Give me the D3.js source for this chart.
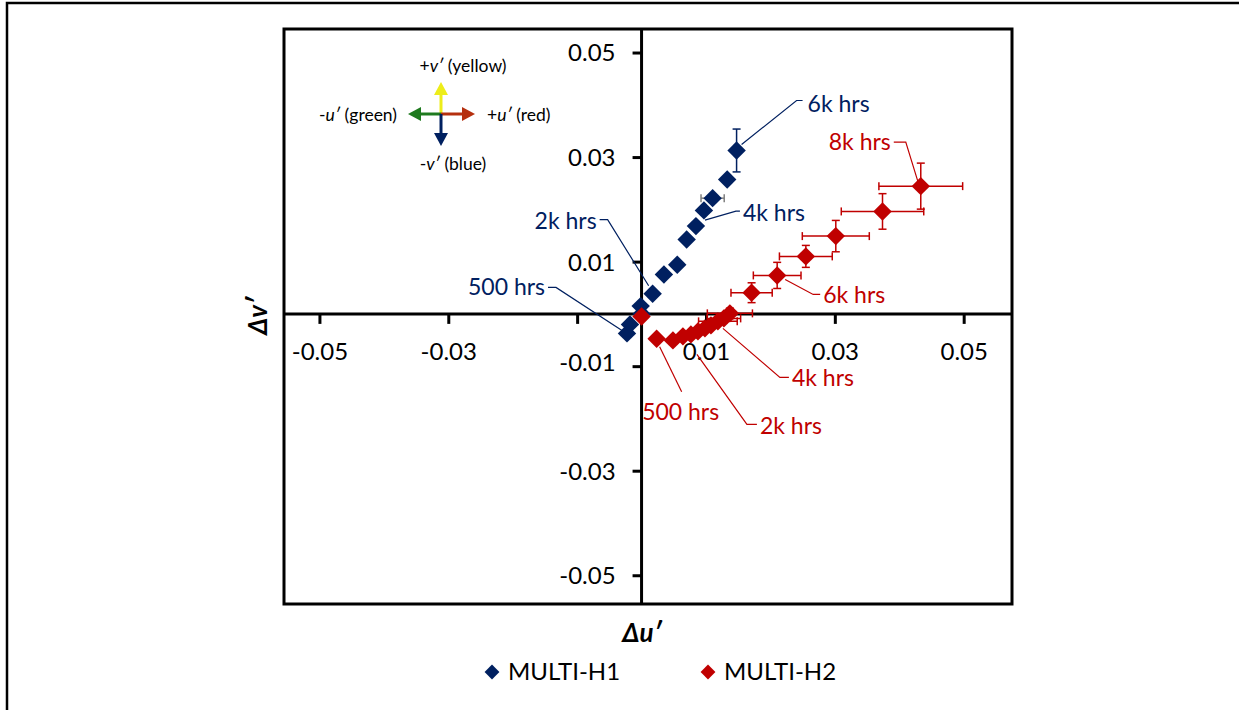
<!DOCTYPE html>
<html>
<head>
<meta charset="utf-8">
<script src="https://cdn.jsdelivr.net/npm/d3@7"></script>
<style>
  body { margin: 0; background: #fff; }
  svg { display: block; font-family: Lato, "Open Sans", sans-serif; }
</style>
</head>
<body>
<div id="vis1"></div>
<script>
// hours since start, 500 hr steps
const H1_HOURS = [0, 500, 1000, 1500, 2000, 2500, 3000, 3500, 4000, 4500, 5000, 5500, 6000];
const H1_DU = [0, -0.00226, -0.0018, -0.00014, 0.00172, 0.00347, 0.00554, 0.007, 0.00844, 0.00968, 0.01103, 0.01329, 0.01475];
const H1_DV = [0, -0.00373, -0.00201, 0.00149, 0.00386, 0.00755, 0.00941, 0.01424, 0.01679, 0.0198, 0.02214, 0.02572, 0.03126];
const H1_ERR_U = [0, 0, 0, 0, 0, 0, 0, 0, 0, 0, 0.0018, 0, 0];
const H1_ERR_V = [0, 0, 0, 0, 0, 0, 0, 0, 0, 0, 0, 0, 0.0041];

const H2_HOURS = [0, 500, 1000, 1500, 2000, 2500, 3000, 3500, 4000, 4500, 5000, 5500, 6000, 6500, 7000, 7500, 8000];
const H2_DU = [0, 0.00234, 0.00487, 0.00642, 0.00766, 0.00875, 0.00984, 0.01077, 0.01185, 0.01278, 0.01371, 0.01708, 0.02105, 0.0255, 0.03015, 0.0374, 0.04334];
const H2_DV = [-0.0005, -0.00474, -0.00507, -0.0043, -0.00392, -0.00335, -0.00277, -0.0022, -0.00143, -0.00086, 0.0001, 0.00405, 0.00736, 0.011, 0.01488, 0.0196, 0.02444];
const H2_ERR_U = [0, 0, 0, 0, 0, 0, 0, 0, 0.003, 0.0026, 0.0035, 0.0032, 0.0037, 0.0041, 0.0052, 0.0064, 0.0065];
const H2_ERR_V = [0, 0, 0, 0, 0, 0, 0, 0, 0, 0.0008, 0.001, 0.0019, 0.0025, 0.0021, 0.003, 0.0034, 0.0044];

const X_TICKS = [-0.05, -0.03, -0.01, 0.01, 0.03, 0.05];
const Y_TICKS = [0.05, 0.03, 0.01, -0.01, -0.03, -0.05];
const SERIES_NAMES = ["MULTI-H1", "MULTI-H2"];

const BLUE = "#002060";
const RED = "#c00000";

const W = 1239, H = 710;
const PLOT = {left: 284, top: 29, right: 1012, bottom: 604};

const svg = d3.select("#vis1").append("svg")
    .attr("width", W)
    .attr("height", H);

svg.append("rect").attr("width", W).attr("height", H).attr("fill", "#fff");

// figure frame
svg.append("rect")
    .attr("x", 7).attr("y", 3)
    .attr("width", 1300).attr("height", 800)
    .attr("fill", "none").attr("stroke", "#000").attr("stroke-width", 2.5);

const x = d3.scaleLinear().domain([-0.0555, 0.0575]).range([PLOT.left, PLOT.right]);
const y = d3.scaleLinear().domain([-0.0555, 0.0545]).range([PLOT.bottom, PLOT.top]);

// plot border
svg.append("rect")
    .attr("x", PLOT.left).attr("y", PLOT.top)
    .attr("width", PLOT.right - PLOT.left).attr("height", PLOT.bottom - PLOT.top)
    .attr("fill", "none").attr("stroke", "#000").attr("stroke-width", 3);

// axes through origin
const xAxis = d3.axisBottom(x).tickValues(X_TICKS).tickSize(10)
    .tickFormat(d => d === -0.01 ? "" : d.toFixed(2)); // shares the y-axis "-0.01" label
const yAxis = d3.axisLeft(y).tickValues(Y_TICKS).tickSize(9).tickFormat(d => d.toFixed(2));

const gx = svg.append("g").attr("transform", `translate(0, ${y(0)})`).call(xAxis);
const gy = svg.append("g").attr("transform", `translate(${x(0)}, 0)`).call(yAxis);

[gx, gy].forEach(g => {
  g.select(".domain").remove();
  g.selectAll(".tick line").attr("stroke", "#000").attr("stroke-width", 3);
  g.selectAll(".tick text").attr("fill", "#000").attr("font-size", 24)
    .attr("font-family", "Lato, 'Open Sans', sans-serif");
});
gx.selectAll(".tick text").attr("y", 38).attr("dy", "0.35em");
gy.selectAll(".tick text").attr("x", -26).attr("dy", "0.35em")
  .attr("transform", d => d === -0.01 ? "translate(0, -4)" : null);

svg.append("line")
    .attr("x1", PLOT.left).attr("x2", PLOT.right)
    .attr("y1", y(0)).attr("y2", y(0))
    .attr("stroke", "#000").attr("stroke-width", 3);
svg.append("line")
    .attr("x1", x(0)).attr("x2", x(0))
    .attr("y1", PLOT.top).attr("y2", PLOT.bottom)
    .attr("stroke", "#000").attr("stroke-width", 3);

// axis titles
svg.append("text")
    .attr("x", 642).attr("y", 633).attr("dy", "0.35em")
    .attr("text-anchor", "middle")
    .attr("font-size", 26).attr("font-weight", "bold").attr("font-style", "italic")
    .text("\u0394u\u2032");
svg.append("text")
    .attr("transform", "translate(258, 316) rotate(-90)")
    .attr("dy", "0.35em")
    .attr("text-anchor", "middle")
    .attr("font-size", 26).attr("font-weight", "bold").attr("font-style", "italic")
    .text("\u0394v\u2032");

const series = [
  {name: SERIES_NAMES[0], color: BLUE, hours: H1_HOURS, du: H1_DU, dv: H1_DV, eu: H1_ERR_U, ev: H1_ERR_V, euColor: "#7f7f7f"},
  {name: SERIES_NAMES[1], color: RED, hours: H2_HOURS, du: H2_DU, dv: H2_DV, eu: H2_ERR_U, ev: H2_ERR_V, euColor: RED}
];

const diamond = d3.symbol(d3.symbolSquare, 170);
const CAP = 4;

series.forEach(s => {
  const pts = s.hours.map((h, i) => ({h: h, u: s.du[i], v: s.dv[i], eu: s.eu[i], ev: s.ev[i]}));
  const g = svg.append("g");

  // horizontal error bars
  const ex = g.selectAll(".ex").data(pts.filter(d => d.eu > 0)).enter().append("g")
      .attr("stroke", s.euColor).attr("stroke-width", 1.5);
  ex.append("line")
      .attr("x1", d => x(d.u - d.eu)).attr("x2", d => x(d.u + d.eu))
      .attr("y1", d => y(d.v)).attr("y2", d => y(d.v));
  ex.append("line")
      .attr("x1", d => x(d.u - d.eu)).attr("x2", d => x(d.u - d.eu))
      .attr("y1", d => y(d.v) - CAP).attr("y2", d => y(d.v) + CAP);
  ex.append("line")
      .attr("x1", d => x(d.u + d.eu)).attr("x2", d => x(d.u + d.eu))
      .attr("y1", d => y(d.v) - CAP).attr("y2", d => y(d.v) + CAP);

  // vertical error bars
  const ey = g.selectAll(".ey").data(pts.filter(d => d.ev > 0)).enter().append("g")
      .attr("stroke", s.color).attr("stroke-width", 1.5);
  ey.append("line")
      .attr("x1", d => x(d.u)).attr("x2", d => x(d.u))
      .attr("y1", d => y(d.v - d.ev)).attr("y2", d => y(d.v + d.ev));
  ey.append("line")
      .attr("x1", d => x(d.u) - CAP).attr("x2", d => x(d.u) + CAP)
      .attr("y1", d => y(d.v - d.ev)).attr("y2", d => y(d.v - d.ev));
  ey.append("line")
      .attr("x1", d => x(d.u) - CAP).attr("x2", d => x(d.u) + CAP)
      .attr("y1", d => y(d.v + d.ev)).attr("y2", d => y(d.v + d.ev));

  g.selectAll("path.pt").data(pts).enter().append("path")
      .attr("class", "pt")
      .attr("d", diamond)
      .attr("transform", d => `translate(${x(d.u)}, ${y(d.v)}) rotate(45)`)
      .attr("fill", s.color);
});

// hour labels with leader lines (offsets in px from the marker)
const LABELS = [
  {s: 0, h: 6000, text: "6k hrs", path: [[5, -6], [60, -50], [66, -50]], t: [71, -47], anchor: "start"},
  {s: 0, h: 4000, text: "4k hrs", path: [[9, -6], [40, -15], [44, -15]], t: [47, -13], anchor: "start"},
  {s: 0, h: 2000, text: "2k hrs", path: [[-4, -8], [-45, -74], [-53, -74]], t: [-56, -73], anchor: "end"},
  {s: 0, h: 500, text: "500 hrs", path: [[-5, -3], [-71, -46], [-79, -46]], t: [-82, -46], anchor: "end"},
  {s: 1, h: 8000, text: "8k hrs", path: [[-3, -5], [-15, -44], [-27, -44]], t: [-30, -44], anchor: "end"},
  {s: 1, h: 6000, text: "6k hrs", path: [[8, 4], [36, 19], [43, 19]], t: [46, 20], anchor: "start"},
  {s: 1, h: 4000, text: "4k hrs", path: [[5, 7], [62, 56], [71, 56]], t: [74, 57], anchor: "start"},
  {s: 1, h: 2000, text: "2k hrs", path: [[6, 20], [56, 90], [66, 90]], t: [69, 92], anchor: "start"},
  {s: 1, h: 500, text: "500 hrs", path: [[3, 8], [25, 53]], t: [24, 73], anchor: "middle"}
];

LABELS.forEach(l => {
  const s = series[l.s];
  const i = s.hours.indexOf(l.h);
  const px = x(s.du[i]), py = y(s.dv[i]);
  svg.append("path")
      .attr("d", d3.line()(l.path.map(p => [px + p[0], py + p[1]])))
      .attr("fill", "none").attr("stroke", s.color).attr("stroke-width", 1.2);
  svg.append("text")
      .attr("x", px + l.t[0]).attr("y", py + l.t[1]).attr("dy", "0.35em")
      .attr("text-anchor", l.anchor)
      .attr("font-size", 23).attr("fill", s.color)
      .text(l.text);
});

// direction key
const key = svg.append("g").attr("transform", "translate(441, 114)");
const ARROWS = [
  {dx: 0, dy: -32, color: "#eded1a"},
  {dx: -33, dy: 0, color: "#1e7a1e"},
  {dx: 34, dy: 0, color: "#b5300f"},
  {dx: 0, dy: 32, color: "#002060"}
];
ARROWS.forEach(a => {
  const len = Math.hypot(a.dx, a.dy);
  const ux = a.dx / len, uy = a.dy / len;
  const head = 13, half = 7;
  key.append("line")
      .attr("x1", 0).attr("y1", 0)
      .attr("x2", a.dx - ux * head).attr("y2", a.dy - uy * head)
      .attr("stroke", a.color).attr("stroke-width", 3);
  const bx = a.dx - ux * head, by = a.dy - uy * head;
  key.append("path")
      .attr("d", `M${a.dx},${a.dy}L${bx - uy * half},${by + ux * half}L${bx + uy * half},${by - ux * half}Z`)
      .attr("fill", a.color);
});

function keyLabel(tx, ty, anchor, sign, letter, rest) {
  const t = svg.append("text")
      .attr("x", tx).attr("y", ty).attr("dy", "0.35em")
      .attr("text-anchor", anchor)
      .attr("font-size", 17.5).attr("fill", "#000");
  t.append("tspan").text(sign);
  t.append("tspan").attr("font-style", "italic").text(letter + "\u2032");
  t.append("tspan").text(" " + rest);
}
keyLabel(463, 66, "middle", "+", "v", "(yellow)");
keyLabel(397, 115, "end", "-", "u", "(green)");
keyLabel(487, 115, "start", "+", "u", "(red)");
keyLabel(453, 164, "middle", "-", "v", "(blue)");

// legend
const LEGEND_X = [492, 708];
series.forEach((s, i) => {
  svg.append("path")
      .attr("d", d3.symbol(d3.symbolSquare, 110)())
      .attr("transform", `translate(${LEGEND_X[i]}, 672) rotate(45)`)
      .attr("fill", s.color);
  svg.append("text")
      .attr("x", LEGEND_X[i] + 16).attr("y", 672).attr("dy", "0.35em")
      .attr("font-size", 24).attr("fill", "#000")
      .text(s.name);
});
</script>
</body>
</html>
